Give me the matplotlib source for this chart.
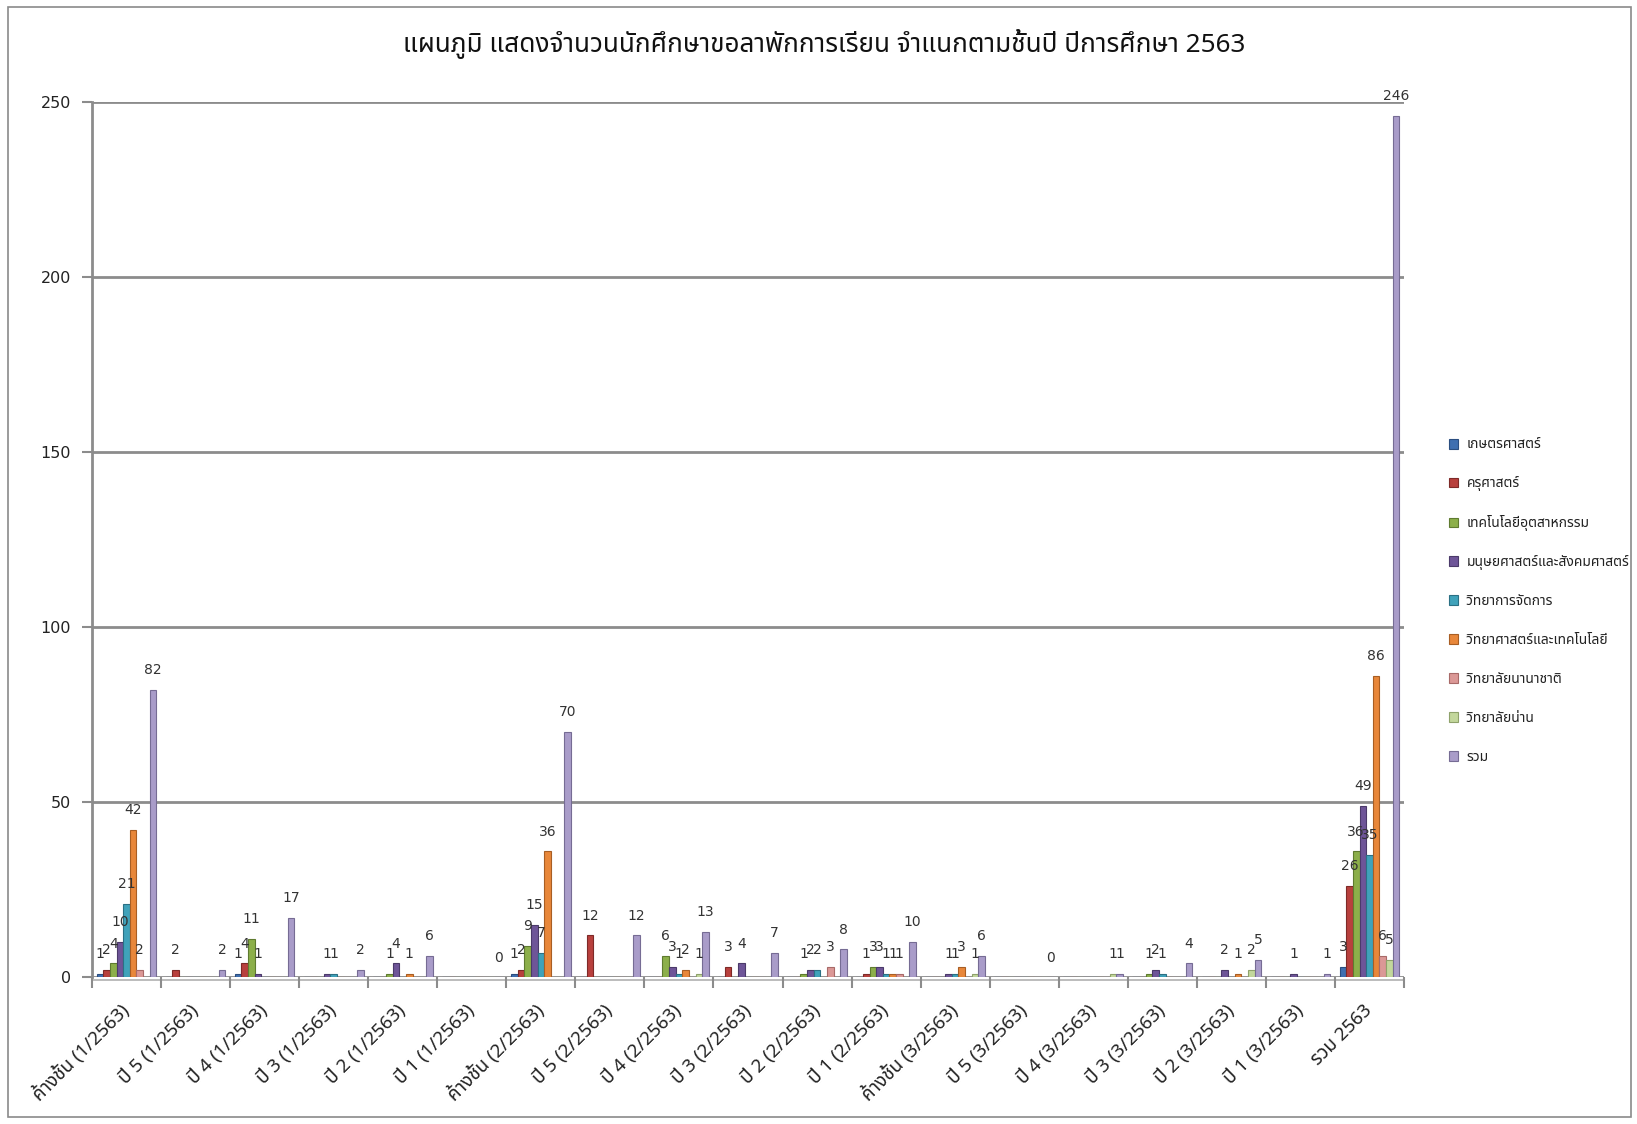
import numpy as np
import matplotlib
matplotlib.use("Agg")
import matplotlib.pyplot as plt
from matplotlib import font_manager as fm
from matplotlib.patches import Rectangle

# ---------------- data ----------------
categories = ["ค้างชั้น (1/2563)", "ปี 5 (1/2563)", "ปี 4 (1/2563)", "ปี 3 (1/2563)",
              "ปี 2 (1/2563)", "ปี 1 (1/2563)", "ค้างชั้น (2/2563)", "ปี 5 (2/2563)",
              "ปี 4 (2/2563)", "ปี 3 (2/2563)", "ปี 2 (2/2563)", "ปี 1 (2/2563)",
              "ค้างชั้น (3/2563)", "ปี 5 (3/2563)", "ปี 4 (3/2563)", "ปี 3 (3/2563)",
              "ปี 2 (3/2563)", "ปี 1 (3/2563)", "รวม 2563"]
series_names = ["เกษตรศาสตร์", "ครุศาสตร์", "เทคโนโลยีอุตสาหกรรม", "มนุษยศาสตร์และสังคมศาสตร์",
                "วิทยาการจัดการ", "วิทยาศาสตร์และเทคโนโลยี", "วิทยาลัยนานาชาติ", "วิทยาลัยน่าน", "รวม"]
n = np.nan
agriculture = [1, n, 1, n, n, n, 1, n, n, n, n, n, n, n, n, n, n, n, 3]
education = [2, 2, 4, n, n, n, 2, 12, n, 3, n, 1, n, n, n, n, n, n, 26]
industrial_tech = [4, n, 11, n, 1, n, 9, n, 6, n, 1, 3, n, n, n, 1, n, n, 36]
humanities = [10, n, 1, 1, 4, n, 15, n, 3, 4, 2, 3, 1, n, n, 2, 2, 1, 49]
management = [21, n, n, 1, n, n, 7, n, 1, n, 2, 1, 1, n, n, 1, n, n, 35]
science_tech = [42, n, n, n, 1, n, 36, n, 2, n, n, 1, 3, n, n, n, 1, n, 86]
international = [2, n, n, n, n, n, n, n, n, n, 3, 1, n, n, n, n, n, n, 6]
nan_college = [n, n, n, n, n, n, n, n, 1, n, n, n, 1, n, 1, n, 2, n, 5]
total = [82, 2, 17, 2, 6, 0, 70, 12, 13, 7, 8, 10, 6, 0, 1, 4, 5, 1, 246]
yticks = [0, 50, 100, 150, 200, 250]
title = "แผนภูมิ แสดงจำนวนนักศึกษาขอลาพักการเรียน จำแนกตามชั้นปี ปีการศึกษา 2563"

series_values = [agriculture, education, industrial_tech, humanities, management,
                 science_tech, international, nan_college, total]
colors = ["#3F6FB0", "#B8403D", "#8CAF4A", "#6E5598", "#40A2BA", "#E8873A",
          "#DB9896", "#C3D79C", "#A99CC9"]
edge_colors = ["#2B4E80", "#7E2A28", "#5F7B30", "#4B3A6A", "#2B7084", "#A85E24",
               "#A86A68", "#8FA26B", "#766C94"]

# ---------------- fonts ----------------
def find_thai_font():
    prefs = ["Noto Sans Thai", "Noto Sans Thai UI", "Noto Sans Thai Looped", "Tahoma",
             "Leelawadee UI", "Leelawadee", "Garuda", "Loma", "Sarabun", "Norasi",
             "Waree", "Kinnari", "Umpush", "Laksaman", "Sawasdee", "Tlwg Typo"]
    names = {f.name for f in fm.fontManager.ttflist}
    for p in prefs:
        if p in names:
            return p
    try:
        from fontTools.ttLib import TTFont
        for f in fm.fontManager.ttflist:
            try:
                tt = TTFont(f.fname, fontNumber=0, lazy=True)
                cmap = tt.getBestCmap()
                if cmap and 0x0E01 in cmap and 0x0E32 in cmap and 0x0E48 in cmap:
                    return f.name
            except Exception:
                continue
    except Exception:
        pass
    return None

thai = find_thai_font()
families = ([thai] if thai else []) + ["DejaVu Sans"]
plt.rcParams["font.family"] = families

# ---------------- figure ----------------
W, H = 1637, 1124
fig = plt.figure(figsize=(W / 100, H / 100), dpi=100)
fig.patch.set_facecolor("white")
fig.add_artist(Rectangle((8 / W, 1 - 1117 / H), (W - 14) / W, (1110) / H,
                         transform=fig.transFigure, fill=False,
                         edgecolor="#8a8a8a", linewidth=1.2))

ax = fig.add_axes([92 / W, 1 - 977 / H, (1404 - 92) / W, (977 - 102) / H])
ax.set_ylim(0, 250)
ax.set_xlim(-0.5, len(categories) - 0.5)

grid_color = "#8c8c8c"
for y in yticks:
    ax.axhline(y, color=grid_color, linewidth=2.0, zorder=0)
# 3D-like floor edge just under the baseline
ax.axhline(-0.9, color="#b0b0b0", linewidth=1.2, zorder=0, clip_on=False)

x = np.arange(len(categories))
bw = 0.096
nser = len(series_values)
for i, (vals, name) in enumerate(zip(series_values, series_names)):
    v = np.array(vals, dtype=float)
    xs = x + (i - (nser - 1) / 2) * bw
    ax.bar(xs, np.nan_to_num(v), width=bw, color=colors[i],
           edgecolor=edge_colors[i], linewidth=0.8, label=name, zorder=3)
    for xi, vi in zip(xs, v):
        if np.isnan(vi):
            continue
        ax.annotate(f"{int(vi)}", (xi, vi), xytext=(0, 9), textcoords="offset points",
                    ha="center", va="bottom", fontsize=10, color="#333333",
                    family=["DejaVu Sans"], zorder=5)

for side in ["top", "right", "bottom"]:
    ax.spines[side].set_visible(False)
ax.spines["left"].set_color(grid_color)
ax.spines["left"].set_linewidth(2.0)

ax.set_yticks(yticks)
ax.set_yticklabels([str(t) for t in yticks], fontsize=11.5, color="#222222",
                   family=["DejaVu Sans"])
ax.tick_params(axis="y", length=7, width=1.5, color=grid_color, pad=8)

ax.set_xticks(np.arange(len(categories) + 1) - 0.5, minor=True)
ax.set_xticks(x)
ax.set_xticklabels(categories, rotation=45, ha="right", va="center",
                   rotation_mode="anchor", fontsize=13.5, color="#222222")
ax.tick_params(axis="x", which="major", length=0, pad=22)
ax.tick_params(axis="x", which="minor", length=8, width=1.5, color=grid_color,
               direction="out")
ax.set_facecolor("white")

fig.text(0.5035, 1 - 44 / H, title, ha="center", va="center", fontsize=18.8,
         color="#111111")

handles, labels = ax.get_legend_handles_labels()
leg = fig.legend(handles, labels, loc="upper left",
                 bbox_to_anchor=(1436 / W, 1 - 425 / H), frameon=False,
                 fontsize=10, handlelength=0.7, handleheight=0.7,
                 handletextpad=0.6, labelspacing=1.72)
for t in leg.get_texts():
    t.set_color("#222222")

fig.savefig("out.png", dpi=100, facecolor="white")
